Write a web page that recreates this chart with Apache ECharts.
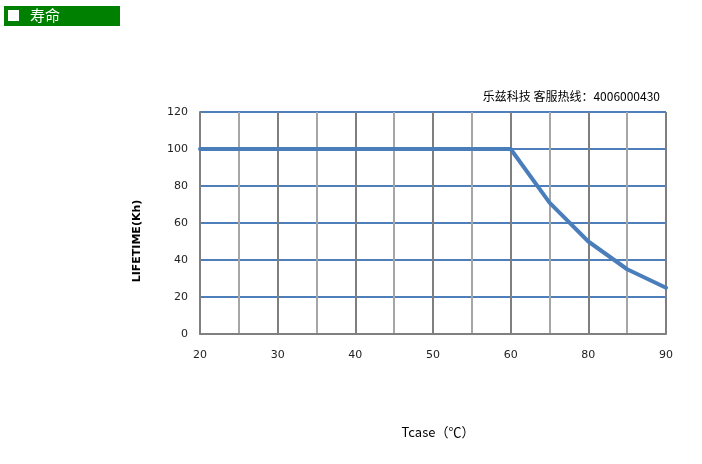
<!DOCTYPE html>
<html><head><meta charset="utf-8">
<script src="https://cdn.jsdelivr.net/npm/echarts@6/dist/echarts.min.js"></script>
<style>html,body{margin:0;padding:0;background:#fff}#c{width:702px;height:464px}</style>
</head><body><div id="c"></div>
<script>
const categories = ['20','25','30','35','40','45','50','55','60','70','80','85','90'];
const lifetime = [100,100,100,100,100,100,100,100,100,71,50,35,25];
const yTicks = {min:0, max:120, interval:20};
const titleText = '寿命';
const hotline = '乐兹科技 客服热线：4006000430';
const yName = 'LIFETIME(Kh)';
const xName = 'Tcase（℃）';

const chart = echarts.init(document.getElementById('c'));
chart.setOption({
  animation:false,
  backgroundColor:'#fff',
  grid:{left:200, top:112, right:36, bottom:130, containLabel:false},
  xAxis:{
    type:'category', data:categories, boundaryGap:false,
    axisLine:{show:true, lineStyle:{color:'#808080', width:2}},
    axisTick:{show:false},
    axisLabel:{interval:1, color:'#222', fontSize:11, fontFamily:'DejaVu Sans', margin:16},
    splitLine:{show:true, interval:0, lineStyle:{color:['#7f7f7f','#a6a6a6'], width:2}}
  },
  yAxis:{
    type:'value', min:yTicks.min, max:yTicks.max, interval:yTicks.interval,
    axisLine:{show:true, lineStyle:{color:'#808080', width:2}},
    axisTick:{show:false},
    axisLabel:{color:'#222', fontSize:11, fontFamily:'DejaVu Sans', margin:12},
    splitLine:{show:true, lineStyle:{color:'#4f7fba', width:2}}
  },
  series:[{
    type:'line', data:lifetime, symbol:'none', z:5,
    lineStyle:{color:'#4a7ebb', width:4, cap:'round', join:'round'}
  }],
  graphic:[
    {type:'rect', left:4, top:6, shape:{width:116, height:20}, style:{fill:'#008000'}},
    {type:'rect', left:8, top:10, shape:{width:11, height:11}, style:{fill:'#fff'}},
    {type:'text', left:30, top:8, style:{text:titleText, fill:'#fff', font:'15px "Noto Sans CJK SC"'}},
    {type:'text', right:42, top:90, style:{text:hotline, fill:'#000', font:'12px "Noto Sans CJK SC"'}},
    {type:'text', x:137, y:241, rotation:Math.PI/2, style:{text:yName, fill:'#000', font:'bold 11px "DejaVu Sans"', align:'center', verticalAlign:'middle'}},
    {type:'text', x:438, y:432, style:{text:xName, fill:'#000', font:'13px "Noto Sans CJK SC"', align:'center', verticalAlign:'middle'}}
  ]
});
</script></body></html>
